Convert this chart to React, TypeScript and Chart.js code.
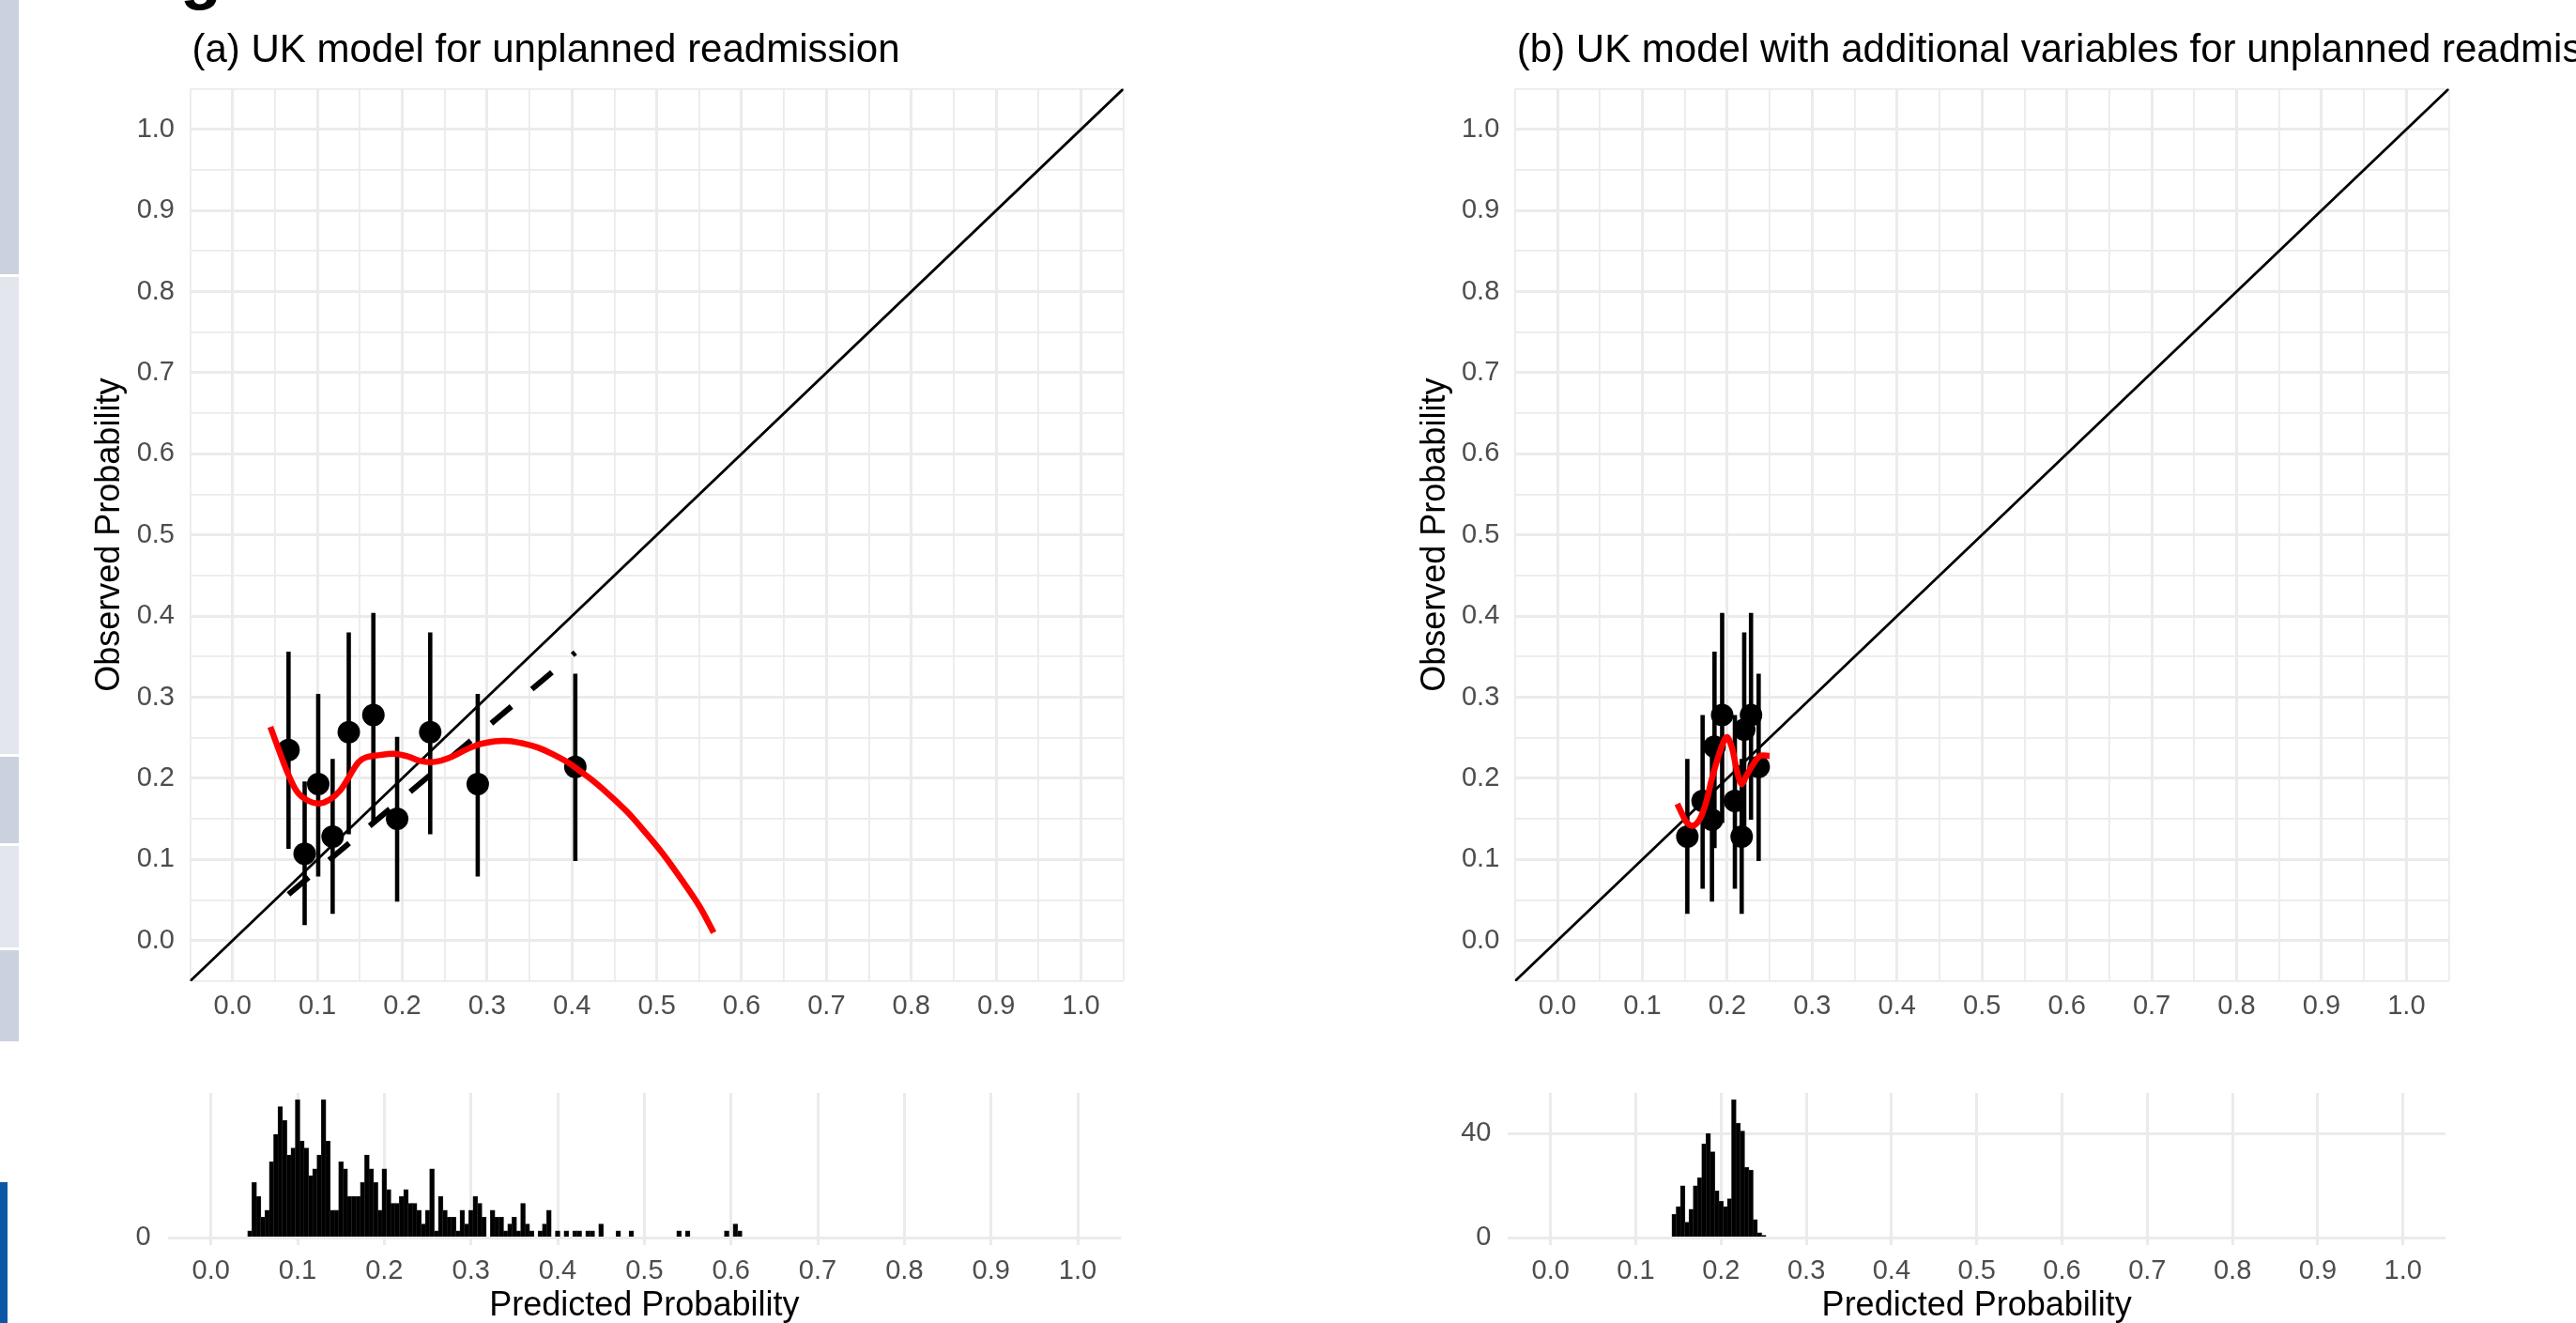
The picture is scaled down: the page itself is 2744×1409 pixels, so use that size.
import React, { useEffect, useRef } from 'react';
import { Chart, registerables } from 'chart.js';

Chart.register(...registerables);

const FONT = '"Liberation Sans", Arial, Helvetica, sans-serif';

// ---- axis breaks / labels ----
const AXIS_BREAKS = [0.0, 0.1, 0.2, 0.3, 0.4, 0.5, 0.6, 0.7, 0.8, 0.9, 1.0];
const AXIS_LIMITS = [-0.05, 1.05];
const HIST_Y_BREAKS = [0, 40];

const TITLE_A = '(a) UK model for unplanned readmission';
const TITLE_B = '(b) UK model with additional variables for unplanned readmission';
const Y_TITLE = 'Observed Probability';
const X_TITLE = 'Predicted Probability';

// ---- panel (a) ----
const A_PRED = [0.066, 0.085, 0.101, 0.118, 0.137, 0.166, 0.194, 0.233, 0.289, 0.404];
const A_OBS = [0.235, 0.107, 0.193, 0.128, 0.257, 0.278, 0.150, 0.257, 0.193, 0.214];
const A_LOW = [0.113, 0.019, 0.079, 0.033, 0.131, 0.145, 0.048, 0.131, 0.079, 0.098];
const A_HIGH = [0.356, 0.196, 0.304, 0.224, 0.380, 0.404, 0.251, 0.380, 0.304, 0.329];
const A_FIT_X = [0.066, 0.404];
const A_FIT_Y = [0.057, 0.355];
const A_LOESS_X = [0.0446, 0.0552, 0.0636, 0.0763, 0.089, 0.1017, 0.1143, 0.127, 0.1377, 0.1483, 0.1567, 0.1736, 0.1905, 0.2074, 0.2201, 0.2329, 0.2456, 0.2583, 0.2752, 0.2921, 0.309, 0.326, 0.3429, 0.3598, 0.3767, 0.3936, 0.4106, 0.4275, 0.4444, 0.4656, 0.4867, 0.5078, 0.5291, 0.5502, 0.5671];
const A_LOESS_Y = [0.2634, 0.2333, 0.2102, 0.1832, 0.1724, 0.1689, 0.1735, 0.1851, 0.2025, 0.2198, 0.2256, 0.2287, 0.2302, 0.2267, 0.2218, 0.2198, 0.2218, 0.2264, 0.2353, 0.2422, 0.2457, 0.246, 0.2429, 0.238, 0.2302, 0.2206, 0.2082, 0.1948, 0.1793, 0.1581, 0.133, 0.1061, 0.0752, 0.0425, 0.0097];

// ---- panel (b) ----
const B_PRED = [0.153, 0.171, 0.182, 0.185, 0.194, 0.209, 0.217, 0.220, 0.228, 0.237];
const B_OBS = [0.128, 0.172, 0.149, 0.239, 0.278, 0.172, 0.128, 0.260, 0.278, 0.214];
const B_LOW = [0.033, 0.064, 0.048, 0.114, 0.145, 0.064, 0.033, 0.131, 0.149, 0.098];
const B_HIGH = [0.224, 0.278, 0.251, 0.356, 0.404, 0.278, 0.224, 0.380, 0.404, 0.329];
const B_LOESS_X = [0.1412, 0.1467, 0.1523, 0.1596, 0.167, 0.1744, 0.1817, 0.1891, 0.1965, 0.2001, 0.2057, 0.2112, 0.2167, 0.2222, 0.2297, 0.2388, 0.2499];
const B_LOESS_Y = [0.1686, 0.1562, 0.1454, 0.1416, 0.1485, 0.1678, 0.1986, 0.2256, 0.2469, 0.2507, 0.2372, 0.2102, 0.1929, 0.2025, 0.216, 0.2276, 0.2276];

// ---- histograms (bin width 0.005, first bin centre given) ----
const BIN_WIDTH = 0.005;
const A_HIST_START = 0.045;
const A_HIST_COUNTS = [
  1, 8, 6, 3, 4, 11, 15, 19, 17, 12, 13,
  20, 14, 13, 9, 10, 12, 20, 14, 4, 4,
  11, 10, 6, 6, 6, 8, 12, 10, 8, 4,
  10, 7, 5, 5, 6, 7, 5, 5, 4, 2,
  4, 10, 1, 6, 4, 3, 3, 1, 4, 2,
  4, 6, 5, 3, 0, 4, 3, 3, 1, 2,
  3, 1, 5, 2, 1, 0, 1, 2, 4, 0,
  1, 0, 1, 0, 1, 1, 0, 1, 1, 0,
  2, 0, 0, 0, 1, 0, 0, 1, 0, 0,
  0, 0, 0, 0, 0, 0, 0, 0, 1, 0,
  1, 0, 0, 0, 0, 0, 0, 0, 0, 1,
  0, 2, 1,
];
const B_HIST_START = 0.145;
const B_HIST_COUNTS = [9, 12, 20, 6, 11, 20, 23, 36, 40, 33, 18, 14, 12, 15, 53, 44, 41, 27, 26, 7, 2, 1];

// ---- styling ----
const GRID = '#EBEBEB';
const TICK_COLOR = '#4D4D4D';
const TICK_SIZE = 29;
const AXIS_TITLE_SIZE = 36;
const TITLE_SIZE = 42;
const MAJOR_W = 3;
const MINOR_W = 1.8;

const isMajor = (v: any) => {
  const n = Number(v);
  return Number.isFinite(n) && Math.abs(n * 10 - Math.round(n * 10)) < 1e-6;
};

function mainTicks(): number[] {
  const t: number[] = [AXIS_LIMITS[0]];
  AXIS_BREAKS.forEach((b, i) => {
    t.push(b);
    if (i < AXIS_BREAKS.length - 1) t.push((b + AXIS_BREAKS[i + 1]) / 2);
  });
  t.push(AXIS_LIMITS[1]);
  return t;
}

const probLabel = (value: any) => {
  const v = Number(value);
  return isMajor(v) && v > -1e-9 && v < 1 + 1e-9 ? v.toFixed(1) : '';
};

const titlePlugin = {
  id: 'panelTitle',
  afterDraw(chart: any, _args: any, opts: any) {
    if (!opts || !opts.text) return;
    const ctx = chart.ctx;
    ctx.save();
    ctx.font = `${TITLE_SIZE}px ${FONT}`;
    ctx.fillStyle = '#000';
    ctx.textBaseline = 'alphabetic';
    ctx.textAlign = 'left';
    ctx.fillText(opts.text, chart.chartArea.left + 2, opts.baseline);
    if (opts.decor) {
      ctx.font = `bold 72px ${FONT}`;
      ctx.fillText('g', 192, -4);
    }
    ctx.restore();
  },
};

type MainP = {
  pred: number[]; obs: number[]; low: number[]; high: number[];
  loessX: number[]; loessY: number[]; fitX?: number[]; fitY?: number[];
  title: string; L: number; T: number; R: number; B: number; W: number; H: number;
  yTitleCenter: number; decor?: boolean;
};

function mainConfig(p: MainP): any {
  const errData: any[] = [];
  p.pred.forEach((x, i) => {
    errData.push({ x, y: p.low[i] }, { x, y: p.high[i] }, { x, y: null });
  });
  const datasets: any[] = [
    {
      label: 'loess',
      data: p.loessX.map((x, i) => ({ x, y: p.loessY[i] })),
      borderColor: '#FF0000', borderWidth: 6.5, pointRadius: 0, tension: 0.35,
      borderCapStyle: 'butt', borderJoinStyle: 'round', order: 0,
    },
  ];
  if (p.fitX && p.fitY) {
    datasets.push({
      label: 'fit',
      data: p.fitX.map((x, i) => ({ x, y: p.fitY![i] })),
      borderColor: '#000', borderWidth: 6, borderDash: [28, 28.5], pointRadius: 0,
      borderCapStyle: 'butt', order: 1,
    });
  }
  datasets.push(
    {
      label: 'points',
      data: p.pred.map((x, i) => ({ x, y: p.obs[i] })),
      showLine: false, pointRadius: 12, pointBackgroundColor: '#000', pointBorderWidth: 0, order: 2,
    },
    {
      label: 'err', data: errData, borderColor: '#000', borderWidth: 4.6, pointRadius: 0,
      spanGaps: false, borderCapStyle: 'butt', order: 3,
    },
    {
      label: 'diag', data: AXIS_LIMITS.map((v) => ({ x: v, y: v })),
      borderColor: '#000', borderWidth: 2.8, pointRadius: 0, order: 4,
    },
  );
  const yAxisW = p.L;
  const xAxisH = 60;
  const gridW = (c: any) => (isMajor(c.tick?.value) ? MAJOR_W : MINOR_W);
  return {
    type: 'line',
    data: { datasets },
    plugins: [titlePlugin],
    options: {
      responsive: false, animation: false, devicePixelRatio: 1, events: [],
      layout: { padding: { left: 0, top: p.T, right: p.W - p.R, bottom: p.H - p.B - xAxisH } },
      plugins: {
        legend: { display: false }, tooltip: { enabled: false },
        panelTitle: { text: p.title, baseline: 66, decor: !!p.decor },
      },
      scales: {
        x: {
          type: 'linear', min: AXIS_LIMITS[0], max: AXIS_LIMITS[1],
          afterBuildTicks: (s: any) => { s.ticks = mainTicks().map((v) => ({ value: v })); },
          afterFit: (s: any) => { s.height = xAxisH; },
          grid: { color: GRID, lineWidth: gridW, drawTicks: false, offset: false },
          border: { display: false },
          ticks: { autoSkip: false, maxRotation: 0, padding: 9.2, color: TICK_COLOR, font: { family: FONT, size: TICK_SIZE }, callback: probLabel },
        },
        y: {
          type: 'linear', min: AXIS_LIMITS[0], max: AXIS_LIMITS[1],
          afterBuildTicks: (s: any) => { s.ticks = mainTicks().map((v) => ({ value: v })); },
          afterFit: (s: any) => { s.width = yAxisW; },
          grid: { color: GRID, lineWidth: gridW, drawTicks: false, offset: false },
          border: { display: false },
          ticks: { autoSkip: false, padding: 16.5, color: TICK_COLOR, font: { family: FONT, size: TICK_SIZE }, callback: probLabel },
          title: {
            display: true, text: Y_TITLE, color: '#000',
            font: { family: FONT, size: AXIS_TITLE_SIZE },
            padding: { top: p.yTitleCenter - AXIS_TITLE_SIZE * 0.6, bottom: 0 },
          },
        },
      },
    },
  };
}

type HistP = { start: number; counts: number[]; L: number; T: number; R: number; B: number; W: number; H: number };

function histConfig(p: HistP): any {
  const maxC = Math.max(...p.counts);
  const yMin = -0.05 * maxC;
  const yMax = 1.05 * maxC;
  const xAxisH = p.H - p.B;
  const filled = (c: any) => !!(c.raw && c.raw.y > 0);
  return {
    type: 'bar',
    data: {
      datasets: [{
        data: p.counts.map((c, i) => ({ x: p.start + i * BIN_WIDTH, y: c })),
        backgroundColor: (c: any) => (filled(c) ? '#000' : 'rgba(0,0,0,0)'),
        borderColor: '#333333',
        borderWidth: (c: any) => (filled(c) ? 0.6 : 0),
        borderSkipped: 'start',
        inflateAmount: (c: any) => (filled(c) ? 0.5 : 0),
        barPercentage: 1, categoryPercentage: 1,
      }],
    },
    options: {
      responsive: false, animation: false, devicePixelRatio: 1, events: [],
      layout: { padding: { left: 0, top: p.T, right: p.W - p.R, bottom: 0 } },
      plugins: { legend: { display: false }, tooltip: { enabled: false } },
      scales: {
        x: {
          type: 'linear', offset: false, min: AXIS_LIMITS[0], max: AXIS_LIMITS[1],
          afterBuildTicks: (s: any) => { s.ticks = AXIS_BREAKS.map((v) => ({ value: v })); },
          afterFit: (s: any) => { s.height = xAxisH; },
          grid: { color: GRID, lineWidth: MAJOR_W, drawTicks: false, offset: false },
          border: { display: false },
          ticks: { autoSkip: false, maxRotation: 0, padding: 10.8, color: TICK_COLOR, font: { family: FONT, size: TICK_SIZE }, callback: probLabel },
          title: {
            display: true, text: X_TITLE, color: '#000',
            font: { family: FONT, size: AXIS_TITLE_SIZE },
            padding: { top: 0, bottom: 27.4 },
          },
        },
        y: {
          type: 'linear', min: yMin, max: yMax,
          afterBuildTicks: (s: any) => { s.ticks = HIST_Y_BREAKS.filter((v) => v <= yMax).map((v) => ({ value: v })); },
          afterFit: (s: any) => { s.width = p.L; },
          grid: { color: GRID, lineWidth: MAJOR_W, drawTicks: false, offset: false },
          border: { display: false },
          ticks: { autoSkip: false, padding: 17.8, color: TICK_COLOR, font: { family: FONT, size: TICK_SIZE }, callback: (v: any) => String(v) },
        },
      },
    },
  };
}

const STRIPS = [
  { top: 0, h: 292, c: '#CBD2DF' },
  { top: 295, h: 508, c: '#E4E6ED' },
  { top: 806, h: 92, c: '#CBD2DF' },
  { top: 901, h: 108, c: '#E4E6ED' },
  { top: 1012, h: 97, c: '#CBD2DF' },
];

export default function App() {
  const aMain = useRef<HTMLCanvasElement>(null);
  const aHist = useRef<HTMLCanvasElement>(null);
  const bMain = useRef<HTMLCanvasElement>(null);
  const bHist = useRef<HTMLCanvasElement>(null);

  useEffect(() => {
    const charts = [
      new Chart(aMain.current!, mainConfig({
        pred: A_PRED, obs: A_OBS, low: A_LOW, high: A_HIGH, loessX: A_LOESS_X, loessY: A_LOESS_Y,
        fitX: A_FIT_X, fitY: A_FIT_Y, title: TITLE_A,
        L: 202.5, T: 94.5, R: 1196.7, B: 1044.9, W: 1260, H: 1120, yTitleCenter: 117, decor: true,
      })),
      new Chart(aHist.current!, histConfig({
        start: A_HIST_START, counts: A_HIST_COUNTS, L: 178.5, T: 44, R: 1194.2, B: 205.8, W: 1260, H: 320,
      })),
      new Chart(bMain.current!, mainConfig({
        pred: B_PRED, obs: B_OBS, low: B_LOW, high: B_HIGH, loessX: B_LOESS_X, loessY: B_LOESS_Y,
        title: TITLE_B,
        L: 213.8, T: 94.5, R: 1208.6, B: 1044.9, W: 1344, H: 1120, yTitleCenter: 129,
      })),
      new Chart(bHist.current!, histConfig({
        start: B_HIST_START, counts: B_HIST_COUNTS, L: 206.3, T: 44, R: 1205.1, B: 205.8, W: 1344, H: 320,
      })),
    ];
    return () => charts.forEach((c) => c.destroy());
  }, []);

  const cv = (left: number, top: number, w: number, h: number) => ({
    position: 'absolute' as const, left, top, width: w, height: h,
  });

  return (
    <div style={{ position: 'fixed', left: 0, top: 0, width: 2744, height: 1409, overflow: 'hidden', background: '#fff' }}>
      {STRIPS.map((s, i) => (
        <div key={i} style={{ position: 'absolute', left: 0, top: s.top, width: 20, height: s.h, background: s.c }} />
      ))}
      <div style={{ position: 'absolute', left: 0, top: 1259, width: 8, height: 150, background: '#0A58A5' }} />
      <canvas ref={aMain} width={1260} height={1120} style={cv(0, 0, 1260, 1120)} />
      <canvas ref={aHist} width={1260} height={320} style={cv(0, 1120, 1260, 320)} />
      <canvas ref={bMain} width={1344} height={1120} style={cv(1400, 0, 1344, 1120)} />
      <canvas ref={bHist} width={1344} height={320} style={cv(1400, 1120, 1344, 320)} />
    </div>
  );
}
